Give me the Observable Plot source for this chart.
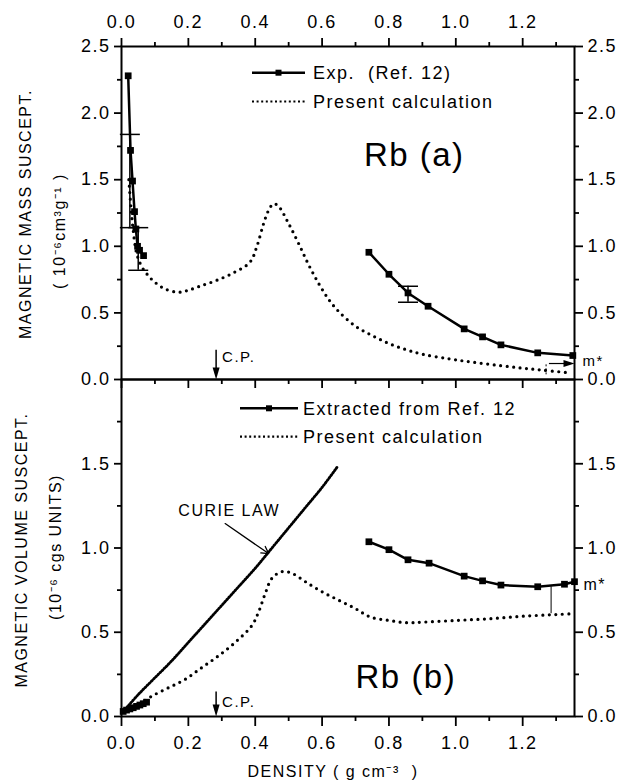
<!DOCTYPE html>
<html><head><meta charset="utf-8">
<script src="https://cdn.jsdelivr.net/npm/d3@7"></script>
<script src="https://cdn.jsdelivr.net/npm/@observablehq/plot@0.6"></script>
<style>
body{margin:0;background:#fff;}
#chart{width:628px;height:782px;position:relative;}
#chart svg{display:block;overflow:visible;}
</style></head><body><div id="chart"></div>
<script>
// ---------- Panel (a): magnetic mass susceptibility ----------
const massExpDensity = [0.020,0.027,0.033,0.039,0.043,0.048,0.054,0.066, 0.74,0.80,0.857,0.917,1.025,1.08,1.135,1.245,1.35];
const massExpValue   = [2.28,1.72,1.49,1.26,1.13,1.00,0.97,0.93, 0.955,0.79,0.65,0.55,0.38,0.32,0.26,0.20,0.18];
const massExpBranch  = ["gas","gas","gas","gas","gas","gas","gas","gas","liq","liq","liq","liq","liq","liq","liq","liq","liq"];
const massErrDensity = [0.025,0.050,0.857];
const massErrLow     = [1.14,0.82,0.58];
const massErrHigh    = [1.84,1.14,0.70];
const massCalcDensity = [0.022,0.028,0.035,0.045,0.06,0.08,0.10,0.13,0.17,0.20,0.234,0.28,0.334,0.384,0.405,0.425,0.44,0.455,0.47,0.50,0.53,0.56,0.59,0.62,0.65,0.70,0.75,0.80,0.85,0.90,0.98,1.05,1.13,1.20,1.26,1.34];
const massCalcValue   = [1.50,1.30,1.12,0.95,0.85,0.78,0.73,0.68,0.655,0.67,0.70,0.74,0.80,0.88,1.00,1.17,1.27,1.32,1.30,1.17,1.02,0.86,0.72,0.60,0.51,0.40,0.33,0.27,0.225,0.19,0.155,0.13,0.105,0.085,0.07,0.05];

// ---------- Panel (b): magnetic volume susceptibility ----------
const volExpDensity = [0.005,0.015,0.025,0.035,0.045,0.055,0.065,0.075, 0.74,0.80,0.857,0.92,1.025,1.08,1.135,1.245,1.325,1.355];
const volExpValue   = [0.03,0.038,0.045,0.052,0.06,0.068,0.076,0.085, 1.037,0.99,0.93,0.91,0.833,0.805,0.78,0.77,0.785,0.80];
const volExpBranch  = ["gas","gas","gas","gas","gas","gas","gas","gas","liq","liq","liq","liq","liq","liq","liq","liq","liq","liq"];
const volCalcDensity = [0.02,0.05,0.09,0.14,0.19,0.24,0.29,0.34,0.39,0.41,0.43,0.45,0.48,0.51,0.55,0.60,0.65,0.70,0.745,0.80,0.85,0.90,1.00,1.10,1.20,1.30,1.355];
const volCalcValue   = [0.04,0.07,0.12,0.17,0.22,0.29,0.36,0.44,0.54,0.62,0.73,0.82,0.86,0.85,0.80,0.74,0.69,0.64,0.59,0.57,0.557,0.56,0.57,0.58,0.595,0.605,0.61];
const curieDensity = [0.01,0.05,0.10,0.15,0.20,0.25,0.30,0.35,0.40,0.45,0.50,0.55,0.60,0.645];
const curieValue   = [0.04,0.13,0.23,0.33,0.44,0.55,0.66,0.77,0.88,1.00,1.12,1.24,1.36,1.48];

// ---------- Axis ticks ----------
const xMajor = [0,0.2,0.4,0.6,0.8,1.0,1.2];
const xMinor = [0.1,0.3,0.5,0.7,0.9,1.1,1.3];
const yMajorA = [0,0.5,1.0,1.5,2.0,2.5];
const yMinorA = [0.25,0.75,1.25,1.75,2.25];
const yMajorB = [0,0.5,1.0,1.5];
const yMinorB = [0.25,0.75,1.25,1.75];

// ---------- Annotation values (data units) ----------
const cpDensity = 0.283;
const mStarA = {line: 1.27, arrowFrom: 1.28, arrowTo: 1.355, arrowY: 0.12, lo: 0.035, hi: 0.115, labelY: 0.14};
const mStarB = {line: 1.285, lo: 0.61, hi: 0.77, labelY: 0.78};
const curieLabel = {x: 0.17, y: 1.22, fromX: 0.31, fromY: 1.145, toX: 0.44, toY: 0.967};

const massExp = massExpDensity.map((d,i)=>({d, v: massExpValue[i], b: massExpBranch[i]}));
const massErr = massErrDensity.map((d,i)=>({d, lo: massErrLow[i], hi: massErrHigh[i]}));
const massCalc = massCalcDensity.map((d,i)=>({d, v: massCalcValue[i]}));
const volExp = volExpDensity.map((d,i)=>({d, v: volExpValue[i], b: volExpBranch[i]}));
const volCalc = volCalcDensity.map((d,i)=>({d, v: volCalcValue[i]}));
const curie = curieDensity.map((d,i)=>({d, v: curieValue[i]}));

const W = 628, ML = 121, MR = 54;
const FONT = "'Liberation Sans', Arial, Helvetica, sans-serif";
const f1 = d3.format(".1f");
const none = () => "";
const triDown = {draw(c){ c.moveTo(0,0); c.lineTo(-3.5,-12); c.lineTo(3.5,-12); c.closePath(); }};
const triRight = {draw(c){ c.moveTo(0,0); c.lineTo(-11,-3.5); c.lineTo(-11,3.5); c.closePath(); }};
const capSym = {draw(c){ c.moveTo(-10,0); c.lineTo(10,0); }};
const baseStyle = {fontFamily: FONT, fontSize: "18px", background: "transparent", overflow: "visible", color: "#000", letterSpacing: "1.5px"};
const calcStyle = {stroke: "black", strokeWidth: 3.2, strokeDasharray: "0 6.5", strokeLinecap: "round", curve: "catmull-rom"};
const ylab = {frameAnchor: "left", rotate: -90, textAnchor: "middle", lineAnchor: "middle", fontSize: 16, ariaLabel: "ylabel"};

const panelA = Plot.plot({
  width: W, height: 379, marginTop: 46, marginBottom: 0, marginLeft: ML, marginRight: MR,
  style: baseStyle,
  x: {domain: [0, 1.355]}, y: {domain: [0, 2.5]},
  marks: [
    Plot.frame({stroke: "black", strokeWidth: 2}),
    Plot.axisX(xMajor, {anchor: "top", tickSize: 9, tickPadding: 10, tickFormat: f1, label: null, strokeWidth: 1.8}),
    Plot.axisX(xMinor, {anchor: "top", tickSize: 5, tickFormat: none, label: null, strokeWidth: 1.8}),
    Plot.axisX(xMajor, {anchor: "bottom", tickSize: 9, tickFormat: none, label: null, strokeWidth: 1.8}),
    Plot.axisX(xMinor, {anchor: "bottom", tickSize: 5, tickFormat: none, label: null, strokeWidth: 1.8}),
    Plot.axisY(yMajorA, {anchor: "left", tickSize: 7, tickPadding: 4, tickFormat: f1, label: null, strokeWidth: 1.8}),
    Plot.axisY(yMinorA, {anchor: "left", tickSize: 4, tickFormat: none, label: null, strokeWidth: 1.8}),
    Plot.axisY(yMajorA, {anchor: "right", tickSize: 8, tickPadding: 5, tickFormat: f1, label: null, strokeWidth: 1.8}),
    Plot.axisY(yMinorA, {anchor: "right", tickSize: 4, tickFormat: none, label: null, strokeWidth: 1.8}),
    Plot.text(["MAGNETIC MASS SUSCEPT."], {text: d=>d, ...ylab, dx: 25-ML, dy: 1}),
    Plot.text(["( 10⁻⁶cm³g⁻¹ )"], {text: d=>d, ...ylab, dx: 59-ML, dy: 18}),
    Plot.line(massCalc, {x: "d", y: "v", ...calcStyle}),
    Plot.line(massExp, {x: "d", y: "v", z: "b", stroke: "black", strokeWidth: 2.5}),
    Plot.dot(massExp, {x: "d", y: "v", symbol: "square", r: 3.8, fill: "black"}),
    Plot.ruleX(massErr, {x: "d", y1: "lo", y2: "hi", stroke: "black", strokeWidth: 1.5}),
    Plot.dot(massErr, {x: "d", y: "lo", symbol: capSym, fill: "none", stroke: "black", strokeWidth: 1.5}),
    Plot.dot(massErr, {x: "d", y: "hi", symbol: capSym, fill: "none", stroke: "black", strokeWidth: 1.5}),
    Plot.ruleX([cpDensity], {x: d=>d, y1: ()=>0.22, y2: ()=>0.05, stroke: "black", strokeWidth: 1.5}),
    Plot.dot([cpDensity], {x: d=>d, y: ()=>0, symbol: triDown, fill: "black", stroke: "none"}),
    Plot.text([cpDensity], {x: d=>d, y: ()=>0.165, text: ()=>"C.P.", textAnchor: "start", dx: 6, fontSize: 15}),
    Plot.ruleX([mStarA], {x: d=>d.line, y1: d=>d.lo, y2: d=>d.hi, stroke: "black", strokeWidth: 1, strokeDasharray: "2 2"}),
    Plot.ruleY([mStarA], {y: d=>d.arrowY, x1: d=>d.arrowFrom, x2: d=>d.arrowTo - 0.01, stroke: "black", strokeWidth: 1.2}),
    Plot.dot([mStarA], {x: d=>d.arrowTo, y: d=>d.arrowY, symbol: triRight, fill: "black", stroke: "none"}),
    Plot.text([mStarA], {x: d=>d.arrowTo, y: d=>d.labelY, text: ()=>"m*", textAnchor: "start", dx: 8, fontSize: 15}),
    Plot.text(["Rb (a)"], {x: ()=>0.725, y: ()=>1.68, text: d=>d, textAnchor: "start", fontSize: 33, ariaLabel: "panel"})
  ]
});

const panelB = Plot.plot({
  width: W, height: 403, marginTop: 0, marginBottom: 66, marginLeft: ML, marginRight: MR,
  style: baseStyle,
  x: {domain: [0, 1.355]}, y: {domain: [0, 2.0]},
  marks: [
    Plot.frame({stroke: "black", strokeWidth: 2}),
    Plot.axisX(xMajor, {anchor: "bottom", tickSize: 10, tickPadding: 10, tickFormat: f1, label: null, strokeWidth: 1.8}),
    Plot.axisX(xMinor, {anchor: "bottom", tickSize: 5, tickFormat: none, label: null, strokeWidth: 1.8}),
    Plot.axisY(yMajorB, {anchor: "left", tickSize: 7, tickPadding: 4, tickFormat: f1, label: null, strokeWidth: 1.8}),
    Plot.axisY(yMinorB, {anchor: "left", tickSize: 4, tickFormat: none, label: null, strokeWidth: 1.8}),
    Plot.axisY(yMajorB, {anchor: "right", tickSize: 8, tickPadding: 5, tickFormat: f1, label: null, strokeWidth: 1.8}),
    Plot.axisY(yMinorB, {anchor: "right", tickSize: 4, tickFormat: none, label: null, strokeWidth: 1.8}),
    Plot.text(["MAGNETIC VOLUME SUSCEPT."], {text: d=>d, ...ylab, dx: 21-ML, dy: 2}),
    Plot.text(["(10⁻⁶ cgs UNITS)"], {text: d=>d, ...ylab, dx: 55-ML, dy: -1}),
    Plot.text(["DENSITY ( g cm⁻³  )"], {text: d=>d, frameAnchor: "bottom-left", dx: 247-ML, dy: 55, textAnchor: "start", lineAnchor: "middle", fontSize: 16}),
    Plot.line(curie, {x: "d", y: "v", stroke: "black", strokeWidth: 2.8, strokeDasharray: "1.1 1.9", curve: "catmull-rom"}),
    Plot.line(volCalc, {x: "d", y: "v", ...calcStyle}),
    Plot.line(volExp, {x: "d", y: "v", z: "b", stroke: "black", strokeWidth: 2.5}),
    Plot.dot(volExp, {x: "d", y: "v", symbol: "square", r: 3.8, fill: "black"}),
    Plot.ruleX([cpDensity], {x: d=>d, y1: ()=>0.145, y2: ()=>0.04, stroke: "black", strokeWidth: 1.5}),
    Plot.dot([cpDensity], {x: d=>d, y: ()=>0, symbol: triDown, fill: "black", stroke: "none"}),
    Plot.text([cpDensity], {x: d=>d, y: ()=>0.085, text: ()=>"C.P.", textAnchor: "start", dx: 6, fontSize: 15}),
    Plot.ruleX([mStarB], {x: d=>d.line, y1: d=>d.lo, y2: d=>d.hi, stroke: "black", strokeWidth: 1}),
    Plot.text([mStarB], {x: ()=>1.355, y: d=>d.labelY, text: ()=>"m*", textAnchor: "start", dx: 9, fontSize: 16}),
    Plot.text([curieLabel], {x: d=>d.x, y: d=>d.y, text: ()=>"CURIE LAW", textAnchor: "start", fontSize: 16}),
    Plot.arrow([curieLabel], {x1: d=>d.fromX, y1: d=>d.fromY, x2: d=>d.toX, y2: d=>d.toY, stroke: "black", strokeWidth: 1.3, headLength: 9}),
    Plot.text(["Rb (b)"], {x: ()=>0.70, y: ()=>0.234, text: d=>d, textAnchor: "start", fontSize: 33, ariaLabel: "panel"})
  ]
});

d3.selectAll([panelA, panelB]).selectAll('g[aria-label="panel"] text').style("letter-spacing", "1px");
d3.selectAll([panelA, panelB]).selectAll('g[aria-label="ylabel"] text').style("letter-spacing", "1.2px");

function legend(svg, x0, x1, xt, rows) {
  const g = d3.select(svg).append("g").attr("aria-label", "legend").attr("text-anchor", "start");
  rows.forEach(r => {
    if (r.type === "exp") {
      g.append("line").attr("x1", x0).attr("x2", x1).attr("y1", r.y).attr("y2", r.y).attr("stroke", "black").attr("stroke-width", 2.5);
      g.append("rect").attr("x", (x0+x1)/2 - 3).attr("y", r.y - 3).attr("width", 6).attr("height", 6).attr("fill", "black");
    } else {
      g.append("line").attr("x1", x0).attr("x2", x1).attr("y1", r.y).attr("y2", r.y).attr("stroke", "black").attr("stroke-width", 2.2).attr("stroke-dasharray", "2 2.6");
    }
    g.append("text").attr("x", xt).attr("y", r.y).attr("dy", "0.35em").attr("text-anchor", "start").style("white-space", "pre").attr("font-size", 18).text(r.label);
  });
}
legend(panelA, 252, 305, 313, [{type: "exp", y: 72.7, label: "Exp.  (Ref. 12)"}, {type: "calc", y: 101.5, label: "Present calculation"}]);
legend(panelB, 240, 298, 303, [{type: "exp", y: 29.3, label: "Extracted from Ref. 12"}, {type: "calc", y: 57.7, label: "Present calculation"}]);

document.getElementById("chart").append(panelA, panelB);
</script></body></html>
